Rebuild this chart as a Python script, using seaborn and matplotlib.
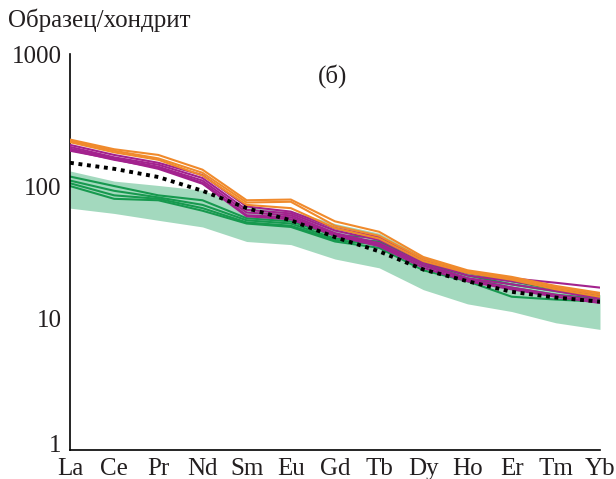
import numpy as np
import pandas as pd
import seaborn as sns
import matplotlib
matplotlib.use('Agg')
import matplotlib.pyplot as plt
import matplotlib.transforms as mtransforms
from matplotlib.ticker import FixedLocator, NullLocator, FixedFormatter

elements = ['La', 'Ce', 'Pr', 'Nd', 'Sm', 'Eu', 'Gd', 'Tb', 'Dy', 'Ho', 'Er', 'Tm', 'Yb']

# green field
band_upper = [130, 109, 101, 93, 70, 65, 52, 44, 29, 23, 20, 17.5, 15]
band_lower = [68, 62, 55, 49, 38, 36, 28, 24, 16.4, 12.8, 11.2, 9.2, 8.2]

orange_1 = [225, 190, 172, 133, 78, 79, 54, 45, 29, 23, 20.5, 17.5, 15.5]
orange_2 = [220, 185, 162, 126, 75, 76, 50, 42, 28, 22.5, 20, 17, 15]
orange_3 = [215, 180, 158, 120, 72, 68, 48, 40, 27, 22, 19.5, 16.5, 14.5]

magenta_1 = [205, 172, 150, 121, 70, 64, 48, 41, 28, 22, 20, 18.5, 17]
magenta_2 = [198, 165, 145, 115, 66, 62, 46, 39, 27, 21, 19, 17, 15]
magenta_3 = [192, 162, 140, 110, 63, 60, 44, 37, 26, 20, 18, 16, 14]
magenta_4 = [188, 158, 138, 106, 60, 58, 43, 36, 25, 19.5, 17, 15, 13.5]
magenta_5 = [185, 160, 135, 104, 59, 56, 42, 35, 24, 19, 16.5, 14.5, 13]

green_1 = [118, 100, 85, 78, 57, 54, 42, 41, 27, 22, 19, 16.5, 15]
green_2 = [110, 92, 82, 72, 55, 52, 40, 38, 26, 21, 18, 16, 14.5]
green_3 = [105, 85, 80, 68, 53, 50, 39, 36, 25, 20, 17, 15, 14]
green_4 = [100, 80, 78, 65, 52, 49, 38, 34, 23, 19, 14.5, 13.8, 13.3]

dotted = [150, 135, 117, 92, 68, 55, 41, 32, 23.3, 19, 15.8, 14.3, 13.3]

sns.set_style('white')
plt.rcParams['font.family'] = ['Liberation Serif', 'DejaVu Serif']

text_color = '#231f20'
fig = plt.figure(figsize=(6.16, 4.79), dpi=100)
ax = fig.add_axes([0.1136, 0.0605, 0.8604, 0.8267])

x = np.arange(len(elements))
ax.fill_between(x, band_lower, band_upper, color='#a3d9be', linewidth=0, zorder=1)

for s in [green_1, green_2, green_3, green_4]:
    sns.lineplot(x=x, y=s, color='#17994f', linewidth=1.5, ax=ax, zorder=2)
for s in [magenta_1, magenta_2, magenta_3, magenta_4, magenta_5]:
    sns.lineplot(x=x, y=s, color='#a3228e', linewidth=1.5, ax=ax, zorder=3)
for s in [orange_1, orange_2, orange_3]:
    sns.lineplot(x=x, y=s, color='#f08a2c', linewidth=1.5, ax=ax, zorder=4)
sns.lineplot(x=x, y=dotted, color='black', linewidth=2.8, linestyle=(0, (1, 1.2)), ax=ax, zorder=5)

ax.set_yscale('log')
ax.set_ylim(1, 1000)
ax.set_xlim(0, 12)
ax.yaxis.set_major_locator(FixedLocator([1, 10, 100, 1000]))
ax.yaxis.set_major_formatter(FixedFormatter(['1', '10', '100', '1000']))
ax.yaxis.set_minor_locator(NullLocator())
ax.set_xticks(x)
ax.set_xticklabels(elements)

for side in ['top', 'right']:
    ax.spines[side].set_visible(False)
for side in ['left', 'bottom']:
    ax.spines[side].set_color('black')
    ax.spines[side].set_linewidth(1.2)

ax.tick_params(axis='both', direction='in', length=8.5, width=1.2, color='black',
               labelsize=18, labelcolor=text_color)
ax.tick_params(axis='y', pad=6)
ax.tick_params(axis='x', pad=6)

# raise the "1" label a little, as in the original
lab = ax.get_yticklabels()[0]
lab.set_transform(lab.get_transform() + mtransforms.ScaledTranslation(0, 5 / 72, fig.dpi_scale_trans))

ax.text(0.496, 0.944, '(б)', transform=ax.transAxes, fontsize=18, ha='center', va='center', color=text_color)
fig.text(0.013, 0.958, 'Образец/хондрит', fontsize=18, ha='left', va='center', color=text_color)

fig.savefig('out.png', dpi=100)
